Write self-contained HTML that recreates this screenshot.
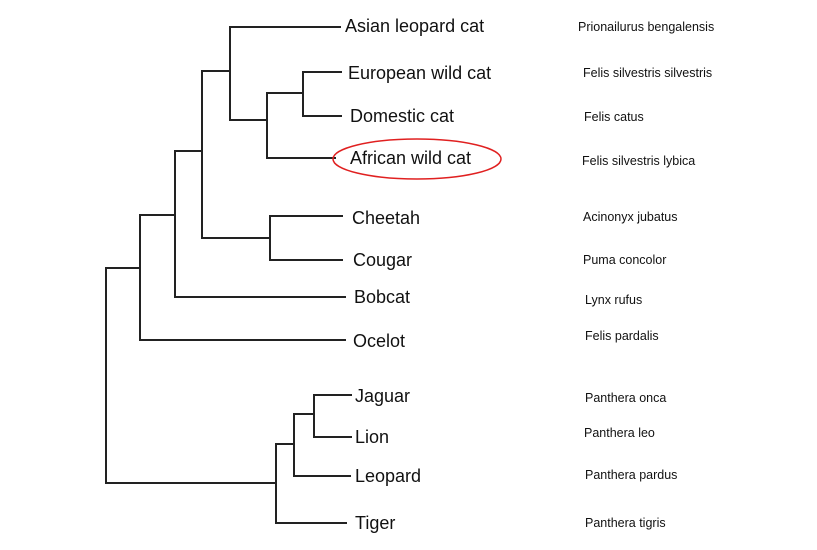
<!DOCTYPE html>
<html><head><meta charset="utf-8"><style>
html,body{margin:0;padding:0;background:#fff;}
svg{display:block;}
.c{font-family:"Liberation Sans",Arial,sans-serif;font-size:18px;fill:#111;}
.l{font-family:"Liberation Sans",Arial,sans-serif;font-size:12.5px;fill:#111;}
</style></head><body>
<svg width="817" height="550" viewBox="0 0 817 550" xmlns="http://www.w3.org/2000/svg">
<g stroke="#222" stroke-width="2" fill="none" stroke-linecap="square">
<path d="M230 27H340M230 27V120H267"/>
<path d="M303 72H341M303 116H341M303 72V116M267 93H303M267 93V158H335"/>
<path d="M202 71H230M202 71V238H270M270 216V260M270 216H342M270 260H342"/>
<path d="M175 151H202M175 151V297H345"/>
<path d="M140 215H175M140 215V340H345"/>
<path d="M106 268H140M106 268V483H276"/>
<path d="M276 444V523H346M276 444H294M294 414V476H350M294 414H314M314 395V437M314 395H351M314 437H351"/>
</g>
<ellipse cx="417" cy="159" rx="84" ry="20" fill="none" stroke="#e02020" stroke-width="1.5"/>
<g class="c">
<text x="345" y="32">Asian leopard cat</text>
<text x="348" y="79">European wild cat</text>
<text x="350" y="122">Domestic cat</text>
<text x="350" y="164">African wild cat</text>
<text x="352" y="224">Cheetah</text>
<text x="353" y="266">Cougar</text>
<text x="354" y="303">Bobcat</text>
<text x="353" y="347">Ocelot</text>
<text x="355" y="402">Jaguar</text>
<text x="355" y="443">Lion</text>
<text x="355" y="482">Leopard</text>
<text x="355" y="529">Tiger</text>
</g>
<g class="l">
<text x="578" y="31">Prionailurus bengalensis</text>
<text x="583" y="77">Felis silvestris silvestris</text>
<text x="584" y="121">Felis catus</text>
<text x="582" y="165">Felis silvestris lybica</text>
<text x="583" y="221">Acinonyx jubatus</text>
<text x="583" y="264">Puma concolor</text>
<text x="585" y="304">Lynx rufus</text>
<text x="585" y="340">Felis pardalis</text>
<text x="585" y="402">Panthera onca</text>
<text x="584" y="437">Panthera leo</text>
<text x="585" y="479">Panthera pardus</text>
<text x="585" y="527">Panthera tigris</text>
</g>
</svg>
</body></html>
